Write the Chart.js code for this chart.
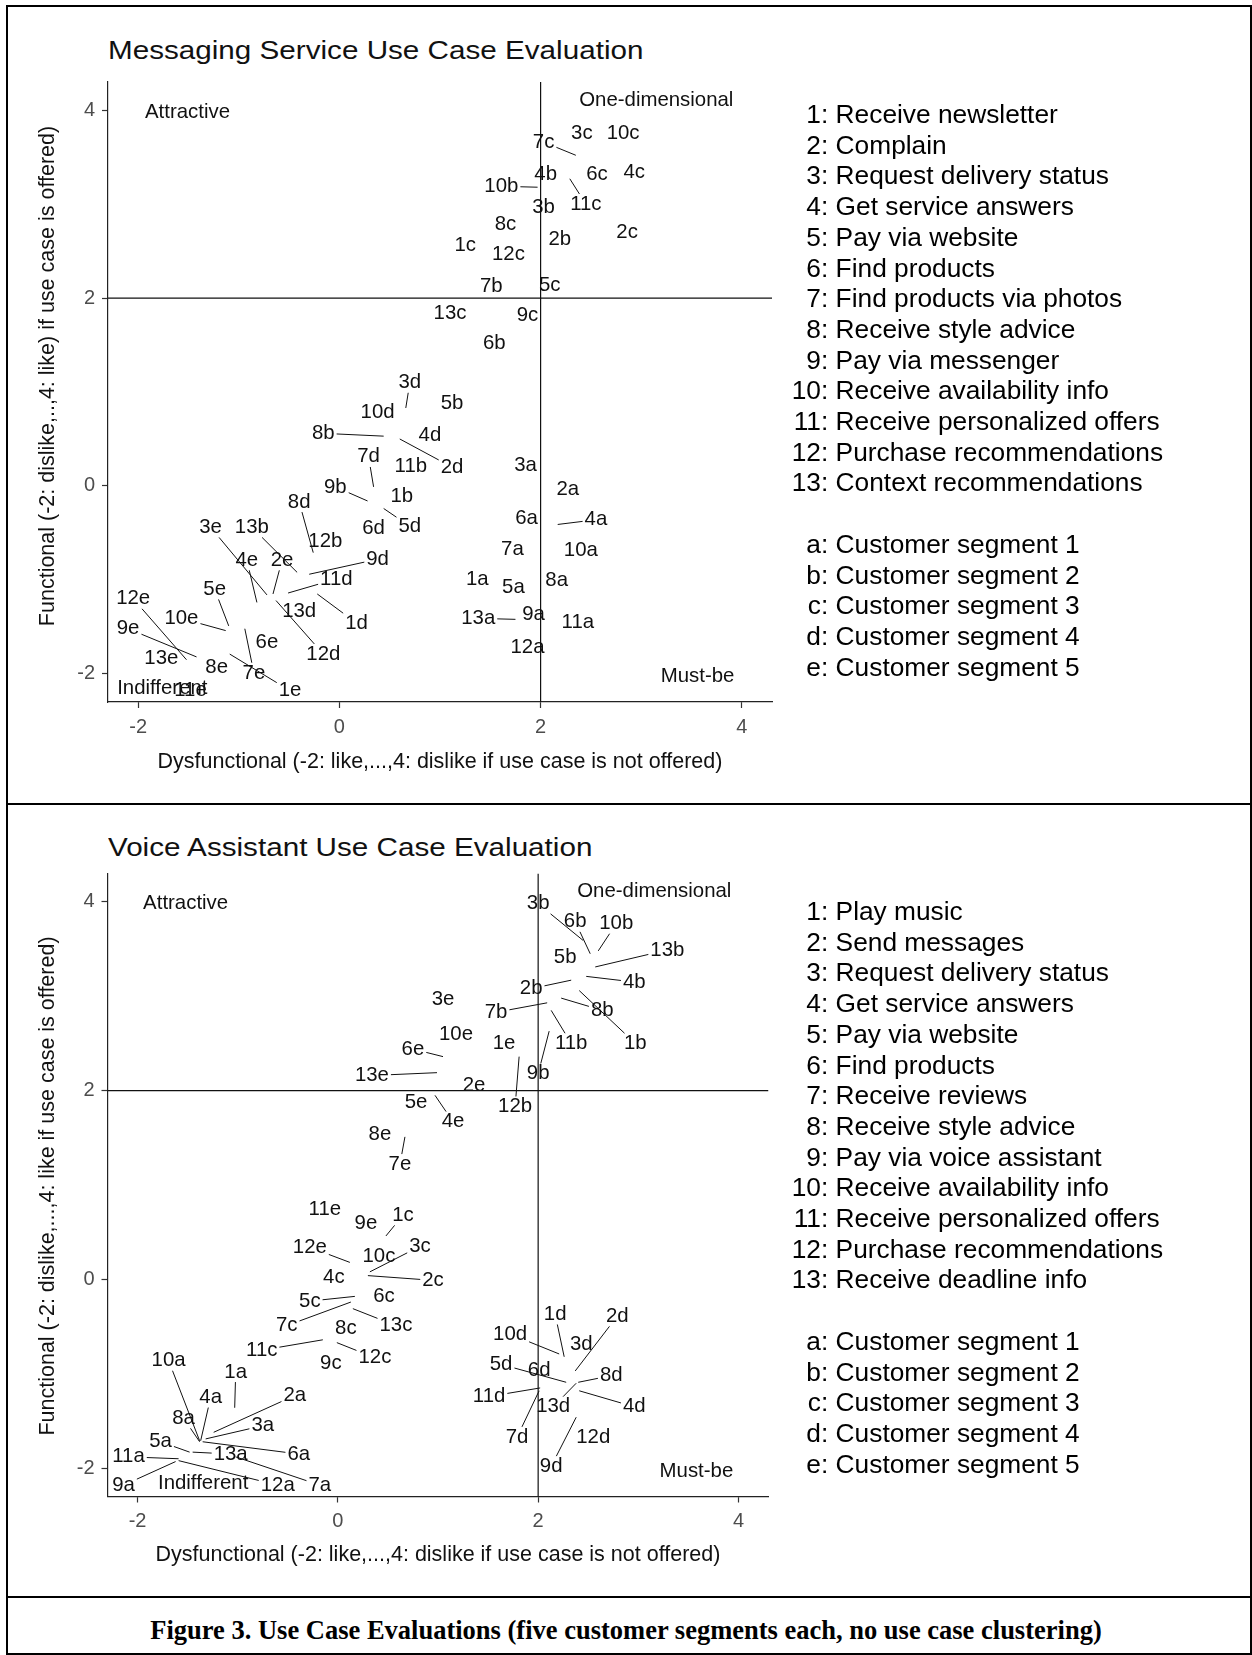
<!DOCTYPE html>
<html>
<head>
<meta charset="utf-8">
<script src="https://cdn.jsdelivr.net/npm/chart.js@4.4.1/dist/chart.umd.min.js"></script>
<style>
  html, body { margin: 0; padding: 0; background: #fff; }
  #page { position: relative; width: 1252px; height: 1655px; overflow: hidden;
          font-family: 'Liberation Sans', Arial, sans-serif; color: #000; }
  .rule { position: absolute; background: #000; }
  .panel { position: absolute; left: 0; width: 790px; height: 800px; }
  .title { position: absolute; left: 108px; font-size: 26px; line-height: 30px; color: #111;
           white-space: nowrap; transform: scaleX(1.14); transform-origin: 0 50%; }
  .legend { position: absolute; left: 781px; font-size: 26.3px; line-height: 30.7px; white-space: nowrap; }
  .legend .k { display: inline-block; width: 40px; text-align: right; }
  .caption { position: absolute; left: 0; width: 1252px; text-align: center; top: 1615px;
             font-family: 'Liberation Serif', 'Times New Roman', serif; font-weight: bold;
             font-size: 26.5px; line-height: 30px; }
</style>
</head>
<body>
<div id="page">
  <div class="rule" style="left:6px;top:5px;width:1246px;height:2px"></div>
  <div class="rule" style="left:6px;top:5px;width:2px;height:1650px"></div>
  <div class="rule" style="left:1250px;top:5px;width:2px;height:1650px"></div>
  <div class="rule" style="left:6px;top:803px;width:1246px;height:2px"></div>
  <div class="rule" style="left:6px;top:1596px;width:1246px;height:2px"></div>
  <div class="rule" style="left:6px;top:1653px;width:1246px;height:2px"></div>

  <div class="title" style="top:35px">Messaging Service Use Case Evaluation</div>
  <div class="panel" style="top:0"><canvas id="msgChart" width="790" height="800"></canvas></div>
  <div class="legend" id="msgLegend" style="top:99px"></div>

  <div class="title" style="top:832px">Voice Assistant Use Case Evaluation</div>
  <div class="panel" style="top:790px"><canvas id="voiceChart" width="790" height="800"></canvas></div>
  <div class="legend" id="voiceLegend" style="top:896px"></div>

  <div class="caption">Figure 3. Use Case Evaluations (five customer segments each, no use case clustering)</div>
</div>

<script>
const FONT = "'Liberation Sans', Arial, sans-serif";

// ---- shared axis settings ----
const axisMin = -2.3;
const axisMax = 4.3;
const tickValues = [-2, 0, 2, 4];
const quadrantSplit = 2;
const quadrantNames = ['Attractive', 'One-dimensional', 'Must-be', 'Indifferent'];
const segmentKeys = ['a', 'b', 'c', 'd', 'e'];
const segmentNames = ['Customer segment 1', 'Customer segment 2', 'Customer segment 3',
                      'Customer segment 4', 'Customer segment 5'];

// ---- Messaging service ----
const msgUseCases = ['Receive newsletter', 'Complain', 'Request delivery status', 'Get service answers',
  'Pay via website', 'Find products', 'Find products via photos', 'Receive style advice',
  'Pay via messenger', 'Receive availability info', 'Receive personalized offers',
  'Purchase recommendations', 'Context recommendations'];
// label names, ordered by segment (a..e) then use case (1..13)
const msgNames = [
  '1a','2a','3a','4a','5a','6a','7a','8a','9a','10a','11a','12a','13a',
  '1b','2b','3b','4b','5b','6b','7b','8b','9b','10b','11b','12b','13b',
  '1c','2c','3c','4c','5c','6c','7c','8c','9c','10c','11c','12c','13c',
  '1d','2d','3d','4d','5d','6d','7d','8d','9d','10d','11d','12d','13d',
  '1e','2e','3e','4e','5e','6e','7e','8e','9e','10e','11e','12e','13e'];
// dysfunctional score (x)
const msgDysfunctional = [
  1.37, 2.27, 1.85, 2.17, 1.73, 1.86, 1.72, 2.16, 1.93, 2.40, 2.37, 1.87, 1.75,
  0.62, 2.19, 2.03, 2.05, 1.12, 1.54, 1.51, 0.44, 0.28, 1.97, 0.71, -0.14, -0.42,
  1.25, 2.86, 2.41, 2.93, 2.09, 2.56, 2.35, 1.65, 1.87, 2.82, 2.29, 1.68, 1.10,
  -0.22, 0.60, 0.66, 0.90, 0.44, 0.34, 0.34, -0.26, -0.30, 0.38, -0.51, -0.63, -0.40,
  -1.09, -0.66, -0.72, -0.82, -1.10, -0.72, -0.94, -1.22, -1.42, -1.13, -1.48, -1.52, -1.77];
// functional score (y)
const msgFunctional = [
  -0.99, -0.04, 0.22, -0.41, -1.08, -0.34, -0.67, -1.01, -1.37, -0.69, -1.45, -1.72, -1.42,
  -0.11, 2.62, 2.97, 3.32, 0.88, 1.52, 2.12, 0.53, -0.16, 3.18, 0.21, -0.59, -0.92,
  2.56, 2.70, 3.75, 3.34, 2.14, 3.32, 3.52, 2.78, 1.82, 3.75, 3.27, 2.47, 1.84,
  -1.15, 0.50, 0.83, 0.54, -0.24, -0.45, -0.01, -0.71, -0.94, 0.78, -1.14, -1.22, -1.33,
  -1.79, -1.15, -1.16, -1.24, -1.49, -1.67, -1.52, -1.93, -1.82, -1.54, -2.18, -1.85, -1.84];
// label displacement (axis units) for crowded points, drawn with a leader line
const msgLabelShift = {
  '4a': [0.38, 0.05], '13a': [-0.37, 0.01],
  '8b': [-0.60, 0.03], '9b': [-0.32, 0.15], '10b': [-0.36, 0.01], '13b': [-0.45, 0.48],
  '7c': [-0.32, 0.14], '11c': [0.16, -0.27],
  '1d': [0.39, -0.31], '2d': [0.52, -0.30], '3d': [0.04, 0.27], '5d': [0.26, -0.19],
  '7d': [-0.05, 0.32], '8d': [-0.14, 0.54], '9d': [0.68, 0.16], '11d': [0.48, 0.15], '12d': [0.47, -0.57],
  '1e': [0.60, -0.39], '2e': [0.09, 0.36], '3e': [-0.56, 0.72], '4e': [-0.10, 0.45],
  '5e': [-0.14, 0.39], '7e': [0.09, -0.47], '9e': [-0.68, 0.30], '10e': [-0.44, 0.13], '12e': [-0.53, 0.65]
};
// quadrant caption anchors (x, y) in axis units
const msgQuadrantX = [-1.51, 3.15, 3.56, -1.76];
const msgQuadrantY = [3.98, 4.10, -2.03, -2.16];

// ---- Voice assistant ----
const voiceUseCases = ['Play music', 'Send messages', 'Request delivery status', 'Get service answers',
  'Pay via website', 'Find products', 'Receive reviews', 'Receive style advice',
  'Pay via voice assistant', 'Receive availability info', 'Receive personalized offers',
  'Purchase recommendations', 'Receive deadline info'];
const voiceNames = msgNames.slice();
const voiceDysfunctional = [
  -1.03, -1.24, -1.32, -1.37, -1.48, -1.35, -1.02, -1.38, -1.62, -1.38, -1.59, -1.59, -1.45,
  2.41, 2.33, 2.45, 2.48, 2.27, 2.52, 2.09, 2.23, 2.11, 2.60, 2.13, 1.81, 2.57,
  0.48, 0.30, 0.32, -0.04, 0.17, 0.46, 0.13, 0.08, -0.07, 0.41, -0.15, -0.01, 0.15,
  2.26, 2.37, 2.43, 2.41, 2.28, 2.01, 2.01, 2.40, 2.38, 2.21, 2.02, 2.55, 2.38,
  1.66, 1.36, 1.05, 0.97, 0.78, 1.05, 0.67, 0.42, 0.28, 1.18, -0.13, 0.12, 0.99];
const voiceFunctional = [
  -1.36, -1.62, -1.69, -1.71, -1.83, -1.72, -1.88, -1.72, -1.93, -1.71, -1.90, -1.92, -1.83,
  3.06, 3.17, 3.59, 3.21, 3.41, 3.45, 2.93, 2.98, 2.63, 3.48, 2.85, 2.36, 3.31,
  0.46, 0.04, 0.08, 0.02, -0.18, -0.18, -0.24, -0.52, -0.89, 0.24, -0.64, -0.67, -0.31,
  -0.82, -0.97, -0.69, -1.18, -1.09, -0.96, -1.18, -1.09, -1.46, -0.79, -1.15, -1.67, -1.10,
  2.50, 2.06, 2.97, 1.95, 1.88, 2.36, 1.51, 1.54, 0.59, 2.60, 0.74, 0.18, 2.19];
const voiceLabelShift = {
  '1a': [0.01, 0.38], '2a': [0.81, 0.39], '3a': [0.57, 0.14], '4a': [0.10, 0.46], '5a': [-0.29, 0.11],
  '6a': [0.96, -0.13], '7a': [0.84, -0.30], '8a': [-0.16, 0.25], '9a': [-0.52, -0.25],
  '10a': [-0.31, 0.85], '11a': [-0.50, 0.02], '12a': [0.99, -0.26], '13a': [0.38, -0.02],
  '1b': [0.56, -0.56], '2b': [-0.40, -0.09], '3b': [-0.45, 0.39], '4b': [0.48, -0.06],
  '6b': [-0.15, 0.34], '7b': [-0.51, -0.10], '8b': [0.41, -0.13], '9b': [-0.11, -0.45],
  '10b': [0.18, 0.29], '11b': [0.20, -0.35], '12b': [-0.04, -0.53], '13b': [0.72, 0.18],
  '1c': [0.17, 0.22], '2c': [0.65, -0.05], '3c': [0.50, 0.27], '5c': [-0.45, -0.05],
  '7c': [-0.64, -0.25], '11c': [-0.61, -0.11], '12c': [0.38, -0.16], '13c': [0.43, -0.18],
  '1d': [-0.09, 0.45], '2d': [0.42, 0.58], '4d': [0.55, -0.17], '5d': [-0.65, 0.19],
  '7d': [-0.22, -0.49], '8d': [0.33, 0.07], '9d': [-0.25, -0.52], '10d': [-0.49, 0.21],
  '11d': [-0.51, -0.09], '13d': [-0.23, -0.25],
  '4e': [0.18, -0.28], '6e': [-0.30, 0.08], '7e': [-0.05, -0.29], '12e': [-0.40, 0.16], '13e': [-0.65, -0.03]
};
const voiceQuadrantX = [-1.52, 3.16, 3.58, -1.345];
const voiceQuadrantY = [3.98, 4.106, -2.03, -2.16];

// ---- text legends beside each plot ----
function fillLegend(id, useCases) {
  const el = document.getElementById(id);
  const rows = useCases.map((t, i) => `<div><span class="k">${i + 1}</span>: ${t}</div>`);
  rows.push('<div>&nbsp;</div>');
  segmentKeys.forEach((k, i) => rows.push(`<div><span class="k">${k}</span>: ${segmentNames[i]}</div>`));
  el.innerHTML = rows.join('');
}
fillLegend('msgLegend', msgUseCases);
fillLegend('voiceLegend', voiceUseCases);

// ---- repelled point labels, quadrant names and axis titles ----
const kanoLabels = {
  id: 'kanoLabels',
  afterDatasetsDraw(chart, args, opts) {
    const { ctx, chartArea } = chart;
    const xs = chart.scales.x, ys = chart.scales.y;
    const ds = chart.data.datasets[0];
    const meta = chart.getDatasetMeta(0);
    ctx.save();
    ctx.font = `${opts.size}px ${FONT}`;
    ctx.textAlign = 'center';
    ctx.textBaseline = 'middle';
    ctx.fillStyle = '#111';
    ctx.strokeStyle = '#111';
    ctx.lineWidth = 1;
    meta.data.forEach((el, i) => {
      const raw = ds.data[i];
      const shift = opts.shift[raw.name] || [0, 0];
      const lx = xs.getPixelForValue(raw.x + shift[0]);
      const ly = ys.getPixelForValue(raw.y + shift[1]);
      if (shift[0] || shift[1]) {
        const hw = ctx.measureText(raw.name).width / 2 + 2;
        const hh = opts.size * 0.4 + 2;
        const dx = el.x - lx, dy = el.y - ly;
        const t = Math.min(dx ? hw / Math.abs(dx) : Infinity, dy ? hh / Math.abs(dy) : Infinity);
        if (t < 1) {
          ctx.beginPath();
          ctx.moveTo(lx + dx * t, ly + dy * t);
          ctx.lineTo(el.x, el.y);
          ctx.stroke();
        }
      }
      ctx.fillText(raw.name, lx, ly);
    });
    quadrantNames.forEach((q, i) => {
      ctx.fillText(q, xs.getPixelForValue(opts.qx[i]), ys.getPixelForValue(opts.qy[i]));
    });
    // axis titles
    ctx.fillStyle = '#111';
    ctx.font = `${opts.titleSize}px ${FONT}`;
    ctx.fillText(opts.xTitle, (chartArea.left + chartArea.right) / 2, opts.xTitleY);
    ctx.translate(opts.yTitleX, opts.yTitleY);
    ctx.rotate(-Math.PI / 2);
    ctx.fillText(opts.yTitle, 0, 0);
    ctx.restore();
  }
};

function makeChart(canvasId, names, xv, yv, shift, qx, qy, geo) {
  const points = names.map((n, i) => ({ x: xv[i], y: yv[i], name: n }));
  const axisCommon = {
    type: 'linear', min: axisMin, max: axisMax,
    afterBuildTicks: s => { s.ticks = tickValues.map(v => ({ value: v })); },
    ticks: { color: '#4D4D4D', font: { family: FONT, size: 20 }, padding: 7,
             callback: v => String(v) },
    grid: { display: true, drawOnChartArea: false, drawTicks: true, tickLength: 6,
            tickColor: '#333', tickWidth: 1.2 },
    border: { display: true, color: '#222', width: 1.2 }
  };
  const refLine = { showLine: true, pointRadius: 0, borderColor: '#111', borderWidth: 1.2, fill: false };
  return new Chart(document.getElementById(canvasId), {
    type: 'scatter',
    data: {
      datasets: [
        { data: points, pointRadius: 0, pointHoverRadius: 0 },
        Object.assign({ data: [{ x: quadrantSplit, y: axisMin }, { x: quadrantSplit, y: axisMax }] }, refLine),
        Object.assign({ data: [{ x: axisMin, y: quadrantSplit }, { x: axisMax, y: quadrantSplit }] }, refLine)
      ]
    },
    options: {
      responsive: false, animation: false, events: [],
      layout: { padding: { top: geo.top, right: geo.right, left: 0, bottom: 0 } },
      plugins: {
        legend: { display: false }, tooltip: { enabled: false },
        kanoLabels: {
          size: 20.4, shift, qx, qy, titleSize: 21.5,
          xTitle: 'Dysfunctional (-2: like,...,4: dislike if use case is not offered)',
          xTitleY: geo.xTitleY, yTitle: geo.yTitle, yTitleX: 48, yTitleY: geo.yTitleY
        }
      },
      scales: {
        x: Object.assign({}, axisCommon, { position: 'bottom', afterFit: s => { s.height = geo.xh; } }),
        y: Object.assign({}, axisCommon, { position: 'left', afterFit: s => { s.width = geo.yw; } })
      }
    },
    plugins: [kanoLabels]
  });
}

makeChart('msgChart', msgNames, msgDysfunctional, msgFunctional, msgLabelShift, msgQuadrantX, msgQuadrantY,
  { top: 82, right: 18, xh: 98, yw: 108, xTitleY: 762, yTitleY: 376,
    yTitle: 'Functional (-2: dislike,..,4: like) if use case is offered)' });
makeChart('voiceChart', voiceNames, voiceDysfunctional, voiceFunctional, voiceLabelShift, voiceQuadrantX, voiceQuadrantY,
  { top: 83.5, right: 21.5, xh: 93.5, yw: 107.5, xTitleY: 765, yTitleY: 396,
    yTitle: 'Functional (-2: dislike,...,4: like if use case is offered)' });
</script>
</body>
</html>
